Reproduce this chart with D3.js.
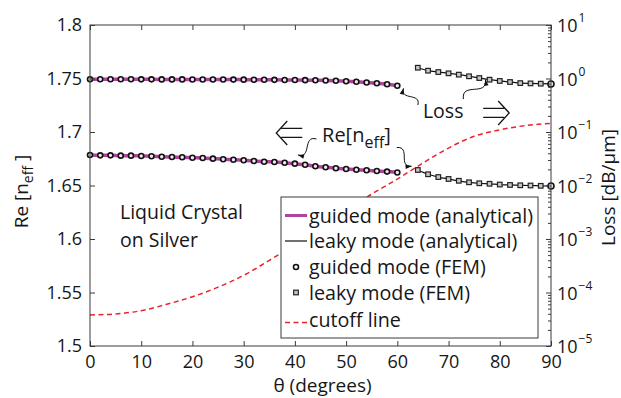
<!DOCTYPE html>
<html><head><meta charset="utf-8">
<script src="https://cdn.jsdelivr.net/npm/d3@7"></script>
<style>
body{margin:0;background:#fff}
text{font-family:"Open Sans",sans-serif;fill:#161616}
</style>
</head><body>
<svg id="c" width="621" height="398"></svg>
<script>
// ---------- data ----------
const guidedTheta = [0,2,4,6,8,10,12,14,16,18,20,22,24,26,28,30,32,34,36,38,40,42,44,46,48,50,52,54,56,58,60];
// guided mode loss (dB/um, right axis)
const guidedLoss = [0.966,0.966,0.966,0.966,0.966,0.964,0.964,0.962,0.962,0.962,0.960,0.958,0.958,0.956,0.954,0.952,0.950,0.946,0.944,0.940,0.938,0.932,0.926,0.917,0.906,0.890,0.867,0.841,0.813,0.779,0.734];
// guided mode Re[n_eff] (left axis)
const guidedRe = [1.6785,1.6782,1.6782,1.6779,1.6779,1.6776,1.6773,1.6769,1.6766,1.6764,1.6760,1.6757,1.6751,1.6745,1.6741,1.6736,1.6729,1.6722,1.6720,1.6713,1.6704,1.6694,1.6680,1.6670,1.6661,1.6654,1.6647,1.6642,1.6636,1.6630,1.6622];
const leakyTheta = [64,66,68,70,72,74,76,78,80,82,84,86,88,90];
const leakyLoss = [1.59,1.40,1.32,1.25,1.18,1.10,1.02,0.95,0.90,0.86,0.82,0.81,0.80,0.79];
const leakyRe = [1.6645,1.6605,1.6579,1.6561,1.6544,1.6530,1.6521,1.6516,1.6509,1.6505,1.6502,1.6500,1.6497,1.6495];
const leakyEndCircleTheta = [90];
const cutoffTheta = [0,5,10,15,20,25,30,35,40,45,50,55,60,65,70,75,80,85,90];
const cutoffRe = [1.529,1.530,1.533,1.539,1.546,1.555,1.566,1.580,1.595,1.610,1.626,1.642,1.656,1.671,1.685,1.696,1.702,1.706,1.708];

const xTicks = [0,10,20,30,40,50,60,70,80,90];
const yLeftTicks = [1.5,1.55,1.6,1.65,1.7,1.75,1.8];
const yLeftTickLabels = ["1.5","1.55","1.6","1.65","1.7","1.75","1.8"];
const yRightExp = [-5,-4,-3,-2,-1,0,1];

const legendLabels = ["guided mode (analytical)","leaky mode (analytical)","guided mode (FEM)","leaky mode (FEM)","cutoff line"];

// ---------- layout ----------
const svg = d3.select("#c");
const L = 90, R = 551, T = 25, B = 346;
const x = d3.scaleLinear([0,90],[L,R]);
const yL = d3.scaleLinear([1.5,1.8],[B,T]);
const yR = d3.scaleLog([1e-5,10],[B,T]);

const MAG = "#b0449c", RED = "#e8242c", AX = "#3a3a3a";

// cutoff line
svg.append("path")
  .attr("d", d3.line().x((d,i)=>x(cutoffTheta[i])).y(d=>yL(d)).curve(d3.curveMonotoneX)(cutoffRe))
  .attr("fill","none").attr("stroke",RED).attr("stroke-width",1.5).attr("stroke-dasharray","5,3.5");

// guided analytical (magenta)
const lineLoss = d3.line().x((d,i)=>x(guidedTheta[i])).y(d=>yR(d)).curve(d3.curveMonotoneX);
const lineRe = d3.line().x((d,i)=>x(guidedTheta[i])).y(d=>yL(d)).curve(d3.curveMonotoneX);
svg.append("path").attr("d", lineLoss(guidedLoss)).attr("fill","none").attr("stroke",MAG).attr("stroke-width",3.5);
svg.append("path").attr("d", lineRe(guidedRe)).attr("fill","none").attr("stroke",MAG).attr("stroke-width",3.5);

// leaky analytical (black)
const lkLoss = d3.line().x((d,i)=>x(leakyTheta[i])).y(d=>yR(d)).curve(d3.curveMonotoneX);
const lkRe = d3.line().x((d,i)=>x(leakyTheta[i])).y(d=>yL(d)).curve(d3.curveMonotoneX);
svg.append("path").attr("d", lkLoss(leakyLoss)).attr("fill","none").attr("stroke","#111").attr("stroke-width",1.2);
svg.append("path").attr("d", lkRe(leakyRe)).attr("fill","none").attr("stroke","#111").attr("stroke-width",1.2);

// FEM guided circles
function circles(th, vals, sc){
  svg.append("g").selectAll("circle").data(vals).join("circle")
    .attr("cx",(d,i)=>x(th[i])).attr("cy",d=>sc(d)).attr("r",2.5)
    .attr("fill","#f3e6f0").attr("stroke","#111").attr("stroke-width",1.6);
}
circles(guidedTheta, guidedLoss, yR);
circles(guidedTheta, guidedRe, yL);
// FEM leaky squares
function squares(th, vals, sc){
  const pts = vals.filter((d,i)=>!leakyEndCircleTheta.includes(th[i]));
  svg.append("g").selectAll("rect").data(pts).join("rect")
    .attr("x",(d,i)=>x(th[i])-2.3).attr("y",d=>sc(d)-2.3).attr("width",4.6).attr("height",4.6)
    .attr("fill","#c8c8c8").attr("stroke","#222").attr("stroke-width",1.2);
  const endI = th.indexOf(leakyEndCircleTheta[0]);
  svg.append("circle").attr("cx",x(th[endI])).attr("cy",sc(vals[endI])).attr("r",3)
    .attr("fill","#eee").attr("stroke","#111").attr("stroke-width",1.6);
}
squares(leakyTheta, leakyLoss, yR);
squares(leakyTheta, leakyRe, yL);

// ---------- axes ----------
const gx = svg.append("g").attr("transform",`translate(0,${B})`)
  .call(d3.axisBottom(x).tickValues(xTicks).tickSize(-5).tickPadding(9).tickFormat(d3.format("d")));
const gxt = svg.append("g").attr("transform",`translate(0,${T})`)
  .call(d3.axisTop(x).tickValues(xTicks).tickSize(-5).tickFormat(""));
const gyl = svg.append("g").attr("transform",`translate(${L},0)`)
  .call(d3.axisLeft(yL).tickValues(yLeftTicks).tickSize(-5).tickPadding(8).tickFormat((d,i)=>yLeftTickLabels[i]));
const minorVals = yR.ticks().filter(v=>Math.abs(Math.log10(v)-Math.round(Math.log10(v)))>1e-6);
const gyrm = svg.append("g").attr("transform",`translate(${R},0)`)
  .call(d3.axisRight(yR).tickValues(minorVals).tickSize(-3).tickFormat(""));
const gyr = svg.append("g").attr("transform",`translate(${R},0)`)
  .call(d3.axisRight(yR).tickValues(yRightExp.map(e=>Math.pow(10,e))).tickSize(-5).tickFormat(""));
[gx,gxt,gyl,gyrm,gyr].forEach(g=>{
  g.select(".domain").remove();
  g.selectAll(".tick line").attr("stroke",AX);
  g.selectAll("text").style("font-size","18px").attr("fill","#161616").style("font-family","'Open Sans',sans-serif");
});
// right labels 10^n
const rl = svg.append("g");
yRightExp.forEach(e=>{
  const t = rl.append("text").attr("x",R+6).attr("y",yR(Math.pow(10,e))+7).style("font-size","18px");
  t.append("tspan").text("10");
  t.append("tspan").attr("dy",-10).attr("dx",1).style("font-size","12px").text(e<0?"\u2212"+(-e):String(e));
});

// frame
svg.append("rect").attr("x",L).attr("y",T).attr("width",R-L).attr("height",B-T)
  .attr("fill","none").attr("stroke",AX).attr("stroke-width",1);

// axis titles
svg.append("text").attr("x",(L+R)/2+2).attr("y",392).attr("text-anchor","middle").style("font-size","19px").text("θ (degrees)");
const ylt = svg.append("text").attr("transform",`translate(28,${(T+B)/2+6}) rotate(-90)`).attr("text-anchor","middle").style("font-size","19px");
ylt.append("tspan").text("Re [n");
ylt.append("tspan").attr("dy",5).style("font-size","14px").text("eff");
ylt.append("tspan").attr("dy",-5).text(" ]");
svg.append("text").attr("transform",`translate(615,${(T+B)/2+2}) rotate(-90)`).attr("text-anchor","middle").style("font-size","19px").text("Loss [dB/µm]");

// ---------- legend ----------
const lg = svg.append("g");
lg.append("rect").attr("x",281).attr("y",197).attr("width",257).attr("height",141)
  .attr("fill","#fff").attr("stroke",AX).attr("stroke-width",1);
const rowY = [215.5,241,267,292.5,319.5];
legendLabels.forEach((lab,i)=>{
  lg.append("text").attr("x",309).attr("y",rowY[i]+7).style("font-size","19.7px").text(lab);
});
lg.append("line").attr("x1",285).attr("x2",307).attr("y1",rowY[0]).attr("y2",rowY[0]).attr("stroke",MAG).attr("stroke-width",3);
lg.append("line").attr("x1",285).attr("x2",307).attr("y1",rowY[1]).attr("y2",rowY[1]).attr("stroke","#111").attr("stroke-width",1.2);
lg.append("circle").attr("cx",296).attr("cy",rowY[2]).attr("r",2.5).attr("fill","#fff").attr("stroke","#111").attr("stroke-width",1.6);
lg.append("rect").attr("x",296-2.3).attr("y",rowY[3]-2.3).attr("width",4.6).attr("height",4.6).attr("fill","#c8c8c8").attr("stroke","#222").attr("stroke-width",1.2);
lg.append("line").attr("x1",285).attr("x2",307).attr("y1",rowY[4]+3).attr("y2",rowY[4]+3).attr("stroke",RED).attr("stroke-width",1.5).attr("stroke-dasharray","5,3.5");

// ---------- annotations (anchored in left-axis data units) ----------
svg.append("text").attr("x",x(65.0)).attr("y",yL(1.7131)).style("font-size","19.5px").text("Loss");
const rn = svg.append("text").attr("x",x(45.3)).attr("y",yL(1.6907)).style("font-size","20px");
rn.append("tspan").text("Re[n");
rn.append("tspan").attr("dy",6).style("font-size","16px").text("eff");
rn.append("tspan").attr("dy",-6).text("]");
svg.append("text").attr("x",x(5.86)).attr("y",yL(1.6184)).style("font-size","19.5px").text("Liquid Crystal");
svg.append("text").attr("x",x(5.86)).attr("y",yL(1.5928)).style("font-size","19.5px").text("on Silver");

// double arrows (⇒ right axis, ⇐ left axis)
function dblArrow(cx, cy, dir){
  const s = dir; // 1 = right, -1 = left
  const p = `M${cx-13*s},${cy-4.5} L${cx+8*s},${cy-4.5} M${cx-13*s},${cy+4.5} L${cx+8*s},${cy+4.5}` +
            ` M${cx+2*s},${cy-12} L${cx+13*s},${cy} L${cx+2*s},${cy+12}`;
  svg.append("path").attr("d",p).attr("fill","none").attr("stroke","#161616").attr("stroke-width",1.3);
}
dblArrow(x(79.3), yL(1.7178), 1);
dblArrow(x(38.9), yL(1.6991), -1);

svg.append("defs").append("marker").attr("id","ah").attr("viewBox","-8 -4 8 8").attr("markerWidth",7).attr("markerHeight",7)
  .attr("refX",0).attr("refY",0).attr("orient","auto").attr("markerUnits","userSpaceOnUse")
  .append("path").attr("d","M0,0 L-7,-2.6 L-7,2.6 Z").attr("fill","#111");
const arrows = [
  {s:[64.0,1.7252], e:[61.2,1.7408], w:1},
  {s:[72.9,1.7308], e:[77.2,1.7490], w:-1},
  {s:[44.2,1.6935], e:[40.6,1.6785], w:1},
  {s:[59.9,1.6855], e:[62.8,1.6680], w:-1},
];
arrows.forEach(a=>{
  const x0=x(a.s[0]), y0=yL(a.s[1]), x1=x(a.e[0]), y1=yL(a.e[1]);
  const dx=x1-x0, dy=y1-y0, len=Math.hypot(dx,dy), nx=-dy/len*a.w, ny=dx/len*a.w, k=len*0.5;
  svg.append("path")
    .attr("d",`M${x0},${y0} C${x0+dx/3+nx*k},${y0+dy/3+ny*k} ${x0+2*dx/3-nx*k},${y0+2*dy/3-ny*k} ${x1},${y1}`)
    .attr("fill","none").attr("stroke","#111").attr("stroke-width",1).attr("marker-end","url(#ah)");
});
</script>
</body></html>
